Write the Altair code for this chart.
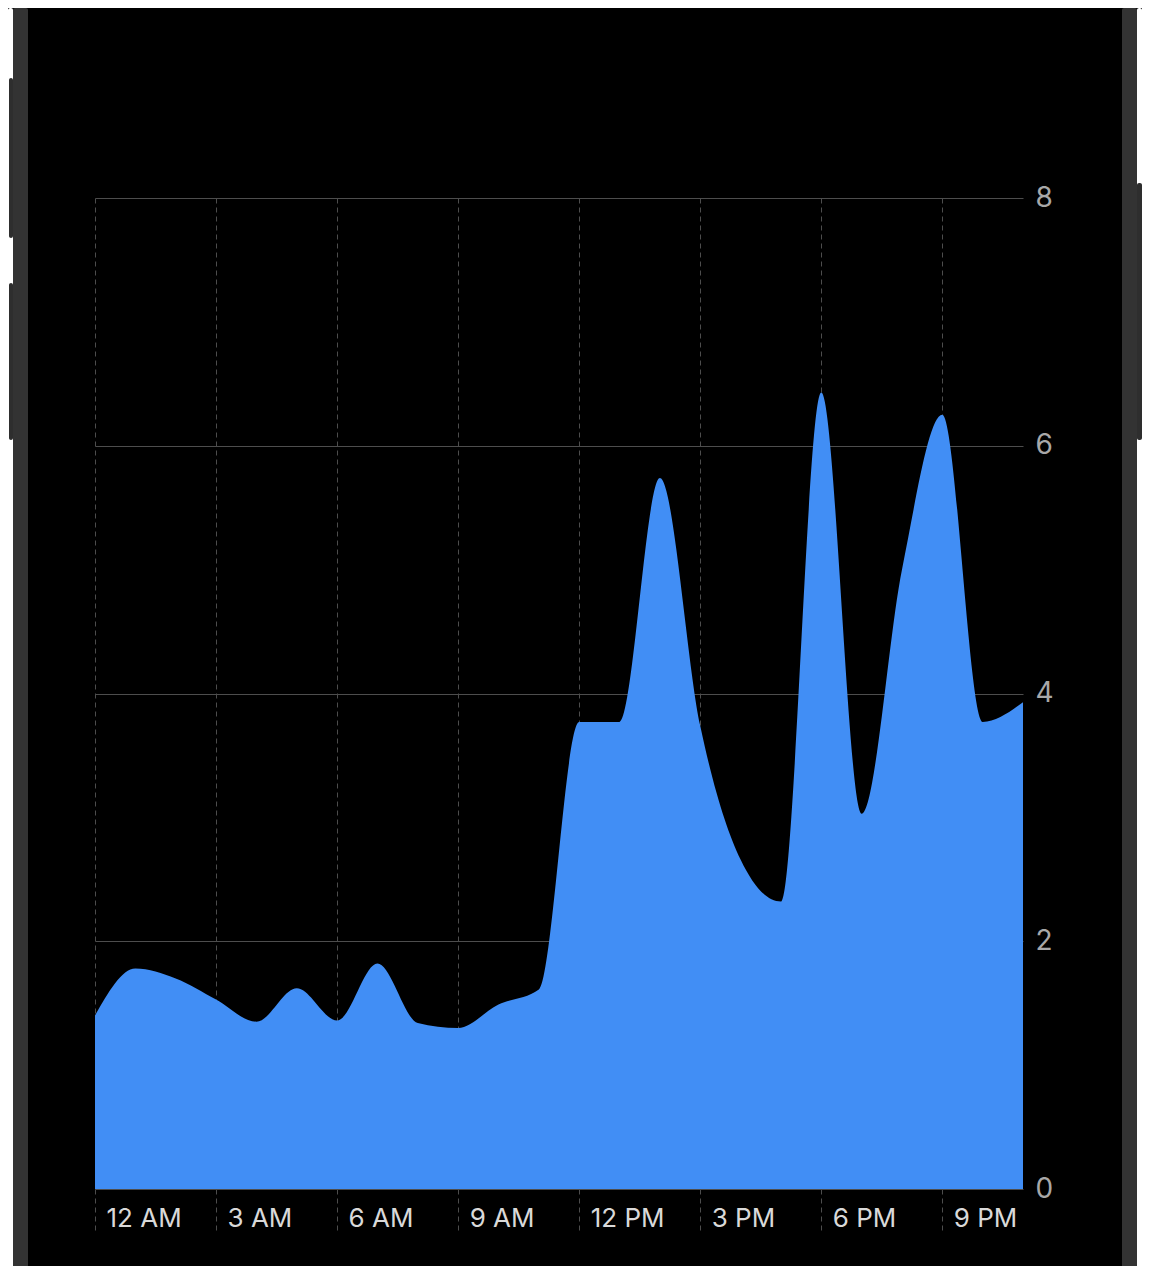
import altair as alt
import pandas as pd

# ---- data ----
hours = list(range(24))
values = [1.40, 1.78, 1.70, 1.53, 1.35, 1.62, 1.36, 1.82, 1.34, 1.30, 1.49, 1.61,
          3.77, 3.77, 5.74, 3.74, 2.66, 2.32, 6.43, 3.03, 5.00, 6.25, 3.77, 3.93]
tick_hours = [0, 3, 6, 9, 12, 15, 18, 21]
tick_labels = ["12 AM", "3 AM", "6 AM", "9 AM", "12 PM", "3 PM", "6 PM", "9 PM"]
y_ticks = [0, 2, 4, 6, 8]

df = pd.DataFrame({"hour": hours, "value": values})

label_array = "[" + ",".join("'%s'" % t for t in tick_labels) + "]"

FONT = "Inter"
BLUE = "#418EF5"
GRID = "#4d4d4d"

area = alt.Chart(df).mark_area(interpolate="monotone", color=BLUE, opacity=1).encode(
    x=alt.X(
        "hour:Q",
        scale=alt.Scale(domain=[0, 23], nice=False, zero=False),
        axis=alt.Axis(
            values=tick_hours,
            title=None,
            domain=False,
            grid=True,
            gridColor=GRID,
            gridDash=[5, 4],
            gridWidth=1,
            ticks=True,
            tickColor=GRID,
            tickDash=[5, 4],
            tickSize=41,
            tickWidth=1,
            labelExpr=label_array + "[round(datum.value/3)]",
            labelAlign="left",
            labelBaseline="alphabetic",
            labelOffset=11,
            labelPadding=-4,
            labelFont=FONT,
            labelFontSize=26,
            labelColor="#d9d9d9",
            labelFlush=False,
            labelOverlap=False,
            labelBound=False,
        ),
    ),
    y=alt.Y(
        "value:Q",
        scale=alt.Scale(domain=[0, 8], nice=False),
        axis=alt.Axis(
            orient="right",
            values=y_ticks,
            title=None,
            domain=False,
            ticks=False,
            grid=True,
            gridColor=GRID,
            gridWidth=1.2,
            labelPadding=12,
            labelFont=FONT,
            labelFontSize=28,
            labelColor="#a8a8a8",
            labelBaseline="middle",
            labelFlush=False,
            labelOverlap=False,
            labelBound=False,
        ),
    ),
)

# ---- decorative phone frame (bezels and side buttons) ----
one = alt.Data(values=[{"k": 1}])

def deco(x0, x1, y0, y1, color):
    return alt.Chart(one).mark_rect(color=color, cornerRadius=2).encode(
        x=alt.value(x0), x2=alt.value(x1), y=alt.value(y0), y2=alt.value(y1)
    )

frame = [
    deco(-87, -82, -190, 1080, "#ffffff"),
    deco(-86, -82, -120, 40, "#2e2e2e"),
    deco(-86, -82, 85, 242, "#2e2e2e"),
    deco(-82, -67, -190, 1080, "#333333"),
    deco(1027, 1042, -190, 1080, "#333333"),
    deco(1042, 1047, -190, 1080, "#ffffff"),
    deco(1042, 1047, -15, 242, "#2e2e2e"),
]

chart = alt.layer(area, *frame).properties(
    width=928,
    height=991,
    autosize=alt.AutoSizeParams(type="none"),
    padding={"left": 87, "top": 190, "right": 119, "bottom": 77},
    background="#000000",
).configure_view(stroke=None)

chart.save("out.html", embed_options={"renderer": "svg", "actions": False})
